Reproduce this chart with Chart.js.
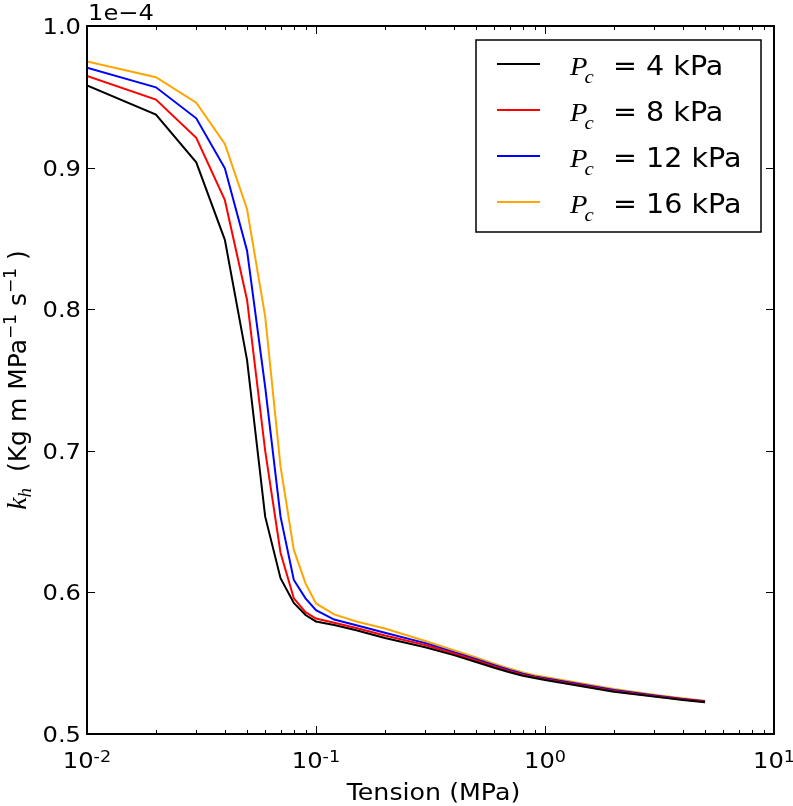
<!DOCTYPE html>
<html>
<head>
<meta charset="utf-8">
<script src="https://cdn.jsdelivr.net/npm/chart.js@4/dist/chart.umd.min.js"></script>
<style>
  html, body { margin: 0; padding: 0; background: #fff; }
  #wrap { width: 793px; height: 806px; }
</style>
</head>
<body>
<div id="wrap"><canvas id="khChart" width="793" height="806"></canvas></div>
<script>
// Tension (MPa)
const tension = [0.01, 0.02, 0.03, 0.04, 0.05, 0.06, 0.07, 0.08, 0.09, 0.1, 0.12, 0.15,
                 0.2, 0.3, 0.4, 0.5, 0.6, 0.7, 0.8, 0.9, 1.0, 2, 3, 4, 5];

// k_h values, in units of 1e-4
const kh4 = [0.958, 0.9374, 0.9037, 0.849, 0.764, 0.6535, 0.610, 0.5925, 0.584, 0.5795, 0.5770, 0.5733,
             0.5678, 0.5613, 0.5557, 0.5508, 0.5468, 0.5436, 0.5411, 0.5395, 0.5381, 0.5299, 0.5264, 0.5240, 0.5224];
const kh8 = [0.9647, 0.948, 0.9211, 0.877, 0.8065, 0.700, 0.628, 0.5958, 0.586, 0.5815, 0.5785, 0.5748,
             0.5695, 0.5628, 0.5568, 0.5519, 0.5477, 0.5444, 0.5418, 0.5401, 0.5387, 0.5303, 0.5267, 0.5243, 0.5227];
const kh12 = [0.9706, 0.9567, 0.9348, 0.8995, 0.8413, 0.745, 0.6535, 0.6088, 0.5958, 0.5875, 0.5808, 0.5768,
              0.5715, 0.5642, 0.5578, 0.5528, 0.5486, 0.5452, 0.5425, 0.5407, 0.5394, 0.5310, 0.5272, 0.5248, 0.5231];
const kh16 = [0.975, 0.9638, 0.9458, 0.9167, 0.8706, 0.7947, 0.689, 0.630, 0.6064, 0.5922, 0.5845, 0.5795,
              0.5745, 0.5657, 0.5592, 0.5540, 0.5497, 0.5462, 0.5434, 0.5415, 0.5402, 0.5318, 0.5278, 0.5252, 0.5235];

const pcLabels = ["4 kPa", "8 kPa", "12 kPa", "16 kPa"];
const lineColors = ["#000000", "#ff0000", "#0000ff", "#ffa500"];

const yTicks = [0.5, 0.6, 0.7, 0.8, 0.9, 1.0];
const xTicks = [0.01, 0.1, 1, 10];
const xTickExp = ["-2", "-1", "0", "1"];

const SANS = "'DejaVu Sans', sans-serif";
const SERIF = "'Liberation Serif', 'DejaVu Serif', serif";

// text with a slight horizontal stretch, like the reference image
function drawText(ctx, txt, x, y, font, align, sx) {
    ctx.save();
    ctx.font = font;
    const w = ctx.measureText(txt).width * sx;
    let x0 = x;
    if (align === "center") x0 = x - w / 2;
    else if (align === "right") x0 = x - w;
    ctx.translate(x0, y);
    ctx.scale(sx, 1);
    ctx.textAlign = "left";
    ctx.fillText(txt, 0, 0);
    ctx.restore();
    return w;
}

function textW(ctx, txt, font, sx) {
    ctx.font = font;
    return ctx.measureText(txt).width * sx;
}

const SX = 1.1;

// ticks, frame, labels and legend in the classic matplotlib look
const decorPlugin = {
    id: "decor",
    afterDraw(chart) {
        const ctx = chart.ctx;
        const xs = chart.scales.x, ys = chart.scales.y;
        const {left, right, top, bottom} = chart.chartArea;
        ctx.save();
        ctx.strokeStyle = "#000";
        ctx.fillStyle = "#000";
        ctx.textBaseline = "alphabetic";

        // tick marks, pointing inwards on all four sides
        ctx.lineWidth = 1;
        ctx.beginPath();
        yTicks.forEach(v => {
            const y = Math.round(ys.getPixelForValue(v)) + 0.5;
            ctx.moveTo(left, y); ctx.lineTo(left + 8, y);
            ctx.moveTo(right, y); ctx.lineTo(right - 8, y);
        });
        xTicks.forEach(v => {
            const x = Math.round(xs.getPixelForValue(v)) + 0.5;
            ctx.moveTo(x, bottom); ctx.lineTo(x, bottom - 8);
            ctx.moveTo(x, top); ctx.lineTo(x, top + 8);
        });
        for (let d = 0; d < xTicks.length - 1; d++) {
            for (let m = 2; m <= 9; m++) {
                const x = Math.round(xs.getPixelForValue(xTicks[d] * m)) + 0.5;
                ctx.moveTo(x, bottom); ctx.lineTo(x, bottom - 4);
                ctx.moveTo(x, top); ctx.lineTo(x, top + 4);
            }
        }
        ctx.stroke();

        // frame
        ctx.lineWidth = 2;
        ctx.strokeRect(left, top, right - left, bottom - top);

        // y tick labels
        yTicks.forEach(v => {
            drawText(ctx, v.toFixed(1), left - 6, ys.getPixelForValue(v) + 8, "22px " + SANS, "right", SX);
        });

        // x tick labels 10^n
        xTicks.forEach((v, i) => {
            const x = xs.getPixelForValue(v);
            const wb = textW(ctx, "10", "22px " + SANS, SX);
            const we = textW(ctx, xTickExp[i], "16px " + SANS, SX);
            const x0 = x - (wb + we) / 2;
            drawText(ctx, "10", x0, bottom + 34, "22px " + SANS, "left", SX);
            drawText(ctx, xTickExp[i], x0 + wb, bottom + 28, "16px " + SANS, "left", SX);
        });

        // x axis title
        drawText(ctx, "Tension (MPa)", (left + right) / 2 + 3, 800, "23px " + SANS, "center", SX);

        // offset text
        drawText(ctx, "1e\u22124", left + 1, 20, "22px " + SANS, "left", SX);

        // y axis title, rotated
        const parts = [
            {t: "k", f: "italic 28px " + SERIF, dy: 0},
            {t: "h", f: "italic 19px " + SERIF, dy: 5},
            {t: "  (Kg m MPa", f: "25px " + SANS, dy: 0},
            {t: "\u22121", f: "17px " + SANS, dy: -10},
            {t: " s", f: "25px " + SANS, dy: 0},
            {t: "\u22121", f: "17px " + SANS, dy: -10},
            {t: " )", f: "25px " + SANS, dy: 0}
        ];
        let total = 0;
        parts.forEach(p => { ctx.font = p.f; p.w = ctx.measureText(p.t).width; total += p.w; });
        ctx.save();
        ctx.translate(26, (top + bottom) / 2);
        ctx.rotate(-Math.PI / 2);
        let cx = -total / 2;
        ctx.textAlign = "left";
        parts.forEach(p => {
            ctx.font = p.f;
            ctx.fillText(p.t, cx, p.dy);
            cx += p.w;
        });
        ctx.restore();

        // legend
        const bx = 476, by = 40, bw = 285, bh = 192;
        ctx.fillStyle = "#fff";
        ctx.fillRect(bx, by, bw, bh);
        ctx.lineWidth = 1.5;
        ctx.strokeStyle = "#000";
        ctx.strokeRect(bx, by, bw, bh);
        chart.data.datasets.forEach((ds, i) => {
            const yBase = 74.5 + i * 46;
            ctx.strokeStyle = ds.borderColor;
            ctx.lineWidth = 2;
            ctx.beginPath();
            ctx.moveTo(497, yBase - 10.5);
            ctx.lineTo(540, yBase - 10.5);
            ctx.stroke();
            ctx.fillStyle = "#000";
            const wp = drawText(ctx, "P", 570, yBase, "italic 26px " + SERIF, "left", SX);
            drawText(ctx, "c", 570 + wp - 3, yBase + 8, "italic 19px " + SERIF, "left", SX);
            drawText(ctx, "= " + pcLabels[i], 613, yBase, "26px " + SANS, "left", SX);
        });
        ctx.restore();
    }
};

const seriesList = [kh4, kh8, kh12, kh16];

new Chart(document.getElementById("khChart").getContext("2d"), {
    type: "line",
    data: {
        datasets: seriesList.map((s, i) => ({
            label: pcLabels[i],
            data: tension.map((t, j) => ({x: t, y: s[j]})),
            borderColor: lineColors[i],
            borderWidth: 2,
            pointRadius: 0,
            tension: 0,
            fill: false
        }))
    },
    options: {
        responsive: false,
        animation: false,
        devicePixelRatio: 1,
        layout: {padding: {top: 26, right: 19, left: 0, bottom: 0}},
        scales: {
            x: {
                type: "logarithmic",
                min: 0.01,
                max: 10,
                ticks: {display: false},
                grid: {display: false, drawTicks: false},
                border: {display: false},
                afterFit: s => { s.height = 72; }
            },
            y: {
                min: 0.5,
                max: 1.0,
                afterBuildTicks: s => { s.ticks = yTicks.map(v => ({value: v})); },
                ticks: {display: false},
                grid: {display: false, drawTicks: false},
                border: {display: false},
                afterFit: s => { s.width = 87; }
            }
        },
        plugins: {
            legend: {display: false},
            tooltip: {enabled: false}
        }
    },
    plugins: [decorPlugin]
});
</script>
</body>
</html>
